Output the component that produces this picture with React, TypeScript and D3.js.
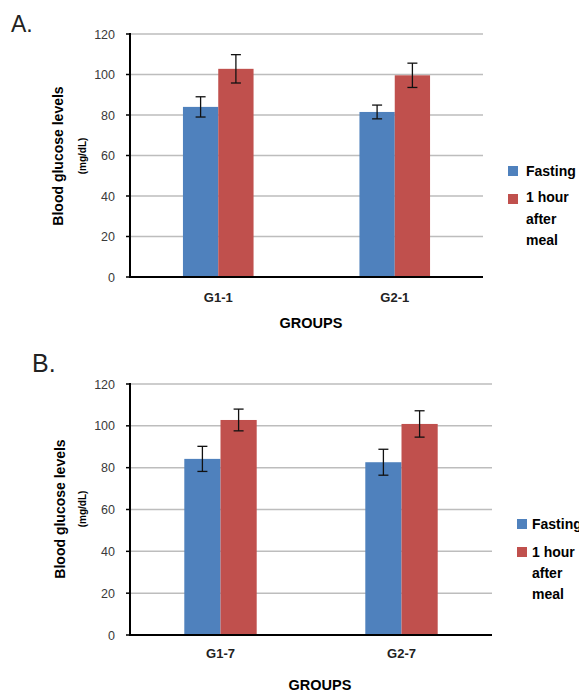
import React from "react";
import * as d3 from "d3";

const seriesNames = ["Fasting", "1 hour after meal"];
const colors = ["#4F81BD", "#C0504D"];
const yTicks = [0, 20, 40, 60, 80, 100, 120];

const groupsA = ["G1-1", "G2-1"];
const fastingA = [84, 81.5];
const fastingErrA = [5, 3.4];
const mealA = [102.8, 99.6];
const mealErrA = [7, 6];

const groupsB = ["G1-7", "G2-7"];
const fastingB = [84.2, 82.6];
const fastingErrB = [6, 6.2];
const mealB = [102.8, 100.9];
const mealErrB = [5.2, 6.3];

type PanelProps = {
  label: string;
  labelPos: [number, number, number];
  x0: number; x1: number; yTop: number; yBottom: number;
  groups: string[];
  values: number[][];
  errs: number[][];
  catBaseline: number;
  groupsTitle: [number, number];
  yLabel: [number, number, number];
  legend: { sx: number; sy: number; tx: number; baselines: number[] };
};

function Panel(p: PanelProps) {
  const x = d3.scaleBand<string>().domain(p.groups).range([p.x0, p.x1]).paddingInner(0).paddingOuter(0);
  const y = d3.scaleLinear().domain([0, 120]).range([p.yBottom, p.yTop]);
  const groupW = x.bandwidth() / 2.5;
  const xs = d3.scaleBand<number>().domain([0, 1]).range([0, groupW]);
  const font = "'Liberation Sans', Arial, sans-serif";
  return (
    <g>
      <text x={p.labelPos[0]} y={p.labelPos[1]} fontSize={p.labelPos[2]} fontFamily={font} fill="#222">{p.label}</text>
      {yTicks.filter(t => t > 0).map(t => (
        <line key={"g" + t} x1={p.x0} x2={p.x1} y1={y(t)} y2={y(t)} stroke="#BDBDBD" strokeWidth={1.5} />
      ))}
      {p.groups.map((g, gi) => (
        <g key={g}>
          {p.values.map((vals, si) => {
            const bx = (x(g) as number) + (x.bandwidth() - groupW) / 2 + (xs(si) as number);
            const cx = bx + xs.bandwidth() / 2;
            const v = vals[gi];
            const e = p.errs[si][gi];
            return (
              <g key={si}>
                <rect x={bx} y={y(v)} width={xs.bandwidth()} height={y(0) - y(v)} fill={colors[si]} />
                <line x1={cx} x2={cx} y1={y(v + e)} y2={y(v - e)} stroke="#111" strokeWidth={1.3} />
                <line x1={cx - 5} x2={cx + 5} y1={y(v + e)} y2={y(v + e)} stroke="#111" strokeWidth={1.3} />
                <line x1={cx - 5} x2={cx + 5} y1={y(v - e)} y2={y(v - e)} stroke="#111" strokeWidth={1.3} />
              </g>
            );
          })}
          <text x={(x(g) as number) + x.bandwidth() / 2} y={p.catBaseline} textAnchor="middle" fontSize={13} fontWeight="bold" fontFamily={font} fill="#222">{g}</text>
        </g>
      ))}
      <line x1={p.x0} x2={p.x0} y1={p.yTop - 1} y2={p.yBottom + 1} stroke="#000" strokeWidth={2} />
      <line x1={p.x0 - 1} x2={p.x1} y1={p.yBottom} y2={p.yBottom} stroke="#000" strokeWidth={2} />
      {yTicks.map(t => (
        <g key={"t" + t}>
          <line x1={p.x0 - 4} x2={p.x0} y1={y(t)} y2={y(t)} stroke="#000" strokeWidth={1.5} />
          <text x={p.x0 - 15} y={y(t) + 4.5} textAnchor="end" fontSize={12.5} fontFamily={font} fill="#3a3a3a">{t}</text>
        </g>
      ))}
      <text x={p.groupsTitle[0]} y={p.groupsTitle[1]} textAnchor="middle" fontSize={14.5} fontWeight="bold" fontFamily={font} fill="#000">GROUPS</text>
      <text transform={`translate(${p.yLabel[0] + 5},${p.yLabel[2]}) rotate(-90)`} textAnchor="middle" fontSize={14} fontWeight="bold" fontFamily={font} fill="#000">Blood glucose levels</text>
      <text transform={`translate(${p.yLabel[1] + 3.5},${p.yLabel[2]}) rotate(-90)`} textAnchor="middle" fontSize={10} fontWeight="bold" fontFamily={font} fill="#000">(mg/dL)</text>
      <rect x={p.legend.sx} y={p.legend.sy} width={10} height={10} fill={colors[0]} />
      <rect x={p.legend.sx} y={p.legend.sy + 28} width={10} height={10} fill={colors[1]} />
      <text x={p.legend.tx} y={p.legend.baselines[0]} fontSize={14} fontWeight="bold" fontFamily={font}>{seriesNames[0]}</text>
      {["1 hour", "after", "meal"].map((w, i) => (
        <text key={w} x={p.legend.tx} y={p.legend.baselines[i + 1]} fontSize={14} fontWeight="bold" fontFamily={font}>{w}</text>
      ))}
    </g>
  );
}

export default function App() {
  return (
    <svg width={579} height={693} style={{ position: "absolute", left: 0, top: 0, background: "#fff" }}>
      <rect width={579} height={693} fill="#fff" />
      <Panel
        label="A." labelPos={[11, 32, 23]}
        x0={130} x1={483} yTop={34} yBottom={277}
        groups={groupsA} values={[fastingA, mealA]} errs={[fastingErrA, mealErrA]}
        catBaseline={302} groupsTitle={[311, 328]} yLabel={[58, 82, 156]}
        legend={{ sx: 508, sy: 166, tx: 526, baselines: [176, 202, 224, 245] }}
      />
      <Panel
        label="B." labelPos={[32, 372, 25]}
        x0={130} x1={492} yTop={384} yBottom={635}
        groups={groupsB} values={[fastingB, mealB]} errs={[fastingErrB, mealErrB]}
        catBaseline={658} groupsTitle={[320, 690]} yLabel={[60, 82, 509]}
        legend={{ sx: 517, sy: 519, tx: 532, baselines: [529, 557, 578, 599] }}
      />
    </svg>
  );
}
